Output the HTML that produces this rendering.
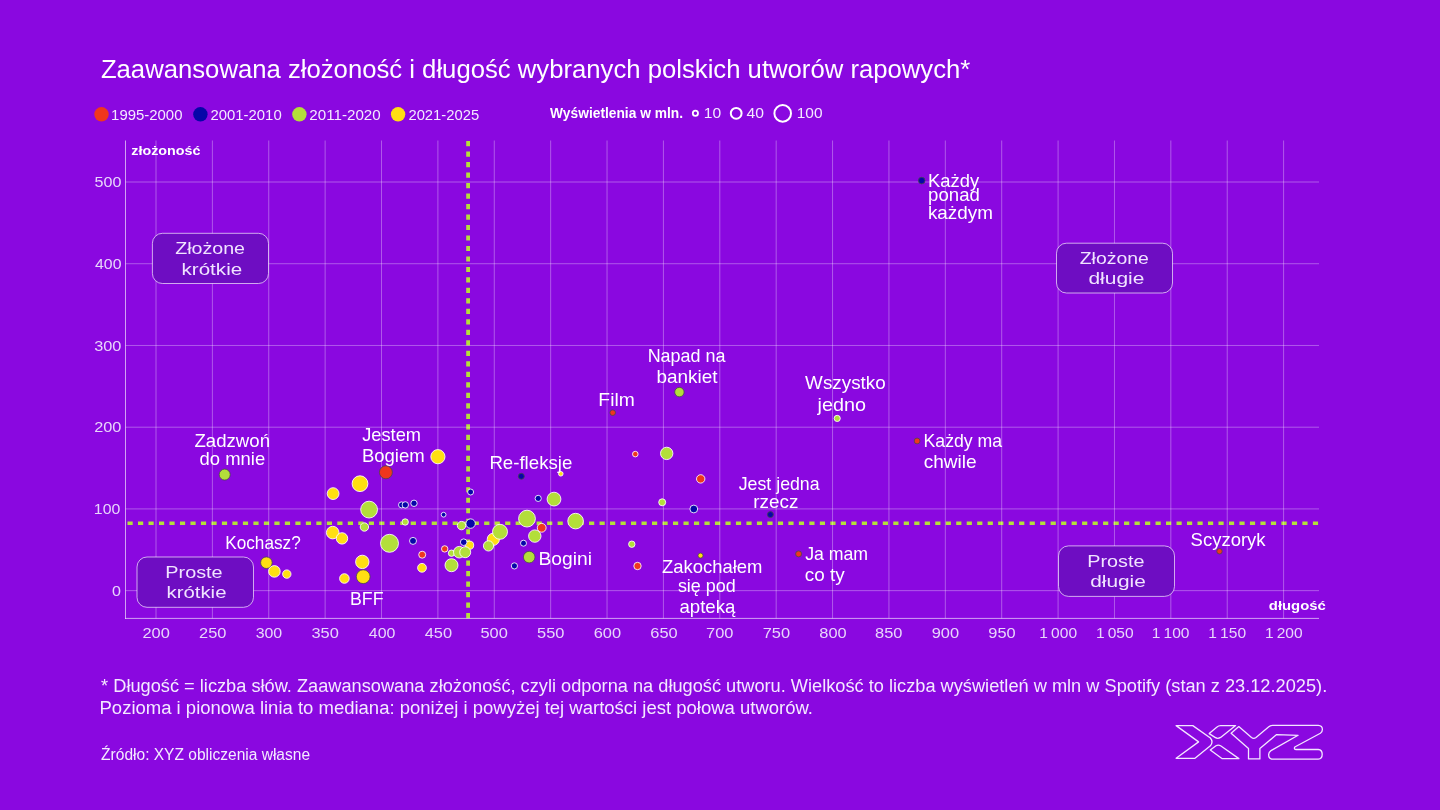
<!DOCTYPE html>
<html><head><meta charset="utf-8"><title>Zaawansowana złożoność i długość wybranych polskich utworów rapowych</title>
<style>
html,body{margin:0;padding:0;background:#8A08E0;}
body{width:1440px;height:810px;overflow:hidden;}
svg{display:block;will-change:transform;}
text{font-family:"Liberation Sans", sans-serif;}
</style></head><body>
<svg width="1440" height="810" viewBox="0 0 1440 810">
<rect x="0" y="0" width="1440" height="810" fill="#8A08E0"/>
<circle cx="101.5" cy="114.3" r="7.2" fill="#F0361E"/>
<circle cx="200.4" cy="114.3" r="7.2" fill="#0606A8"/>
<circle cx="299.4" cy="114.3" r="7.2" fill="#B3DE3A"/>
<circle cx="398.1" cy="114.3" r="7.2" fill="#FFDF12"/>
<circle cx="695.4" cy="113.3" r="2.6" fill="none" stroke="#fff" stroke-width="1.8"/>
<circle cx="736.2" cy="113.3" r="5.4" fill="none" stroke="#fff" stroke-width="2"/>
<circle cx="782.7" cy="113.4" r="8.3" fill="none" stroke="#fff" stroke-width="2"/>
<line x1="127.5" y1="523.3" x2="1319" y2="523.3" stroke="#B4E03A" stroke-width="3.4" stroke-dasharray="5.2 5.29"/>
<line x1="468.1" y1="141" x2="468.1" y2="618.5" stroke="#B4E03A" stroke-width="3.8" stroke-dasharray="5.2 5.29"/>
<line x1="156.00" y1="140.5" x2="156.00" y2="618.4" stroke="rgba(255,255,255,0.33)" stroke-width="1"/>
<line x1="212.38" y1="140.5" x2="212.38" y2="618.4" stroke="rgba(255,255,255,0.33)" stroke-width="1"/>
<line x1="268.76" y1="140.5" x2="268.76" y2="618.4" stroke="rgba(255,255,255,0.33)" stroke-width="1"/>
<line x1="325.14" y1="140.5" x2="325.14" y2="618.4" stroke="rgba(255,255,255,0.33)" stroke-width="1"/>
<line x1="381.52" y1="140.5" x2="381.52" y2="618.4" stroke="rgba(255,255,255,0.33)" stroke-width="1"/>
<line x1="437.90" y1="140.5" x2="437.90" y2="618.4" stroke="rgba(255,255,255,0.33)" stroke-width="1"/>
<line x1="494.28" y1="140.5" x2="494.28" y2="618.4" stroke="rgba(255,255,255,0.33)" stroke-width="1"/>
<line x1="550.66" y1="140.5" x2="550.66" y2="618.4" stroke="rgba(255,255,255,0.33)" stroke-width="1"/>
<line x1="607.04" y1="140.5" x2="607.04" y2="618.4" stroke="rgba(255,255,255,0.33)" stroke-width="1"/>
<line x1="663.42" y1="140.5" x2="663.42" y2="618.4" stroke="rgba(255,255,255,0.33)" stroke-width="1"/>
<line x1="719.80" y1="140.5" x2="719.80" y2="618.4" stroke="rgba(255,255,255,0.33)" stroke-width="1"/>
<line x1="776.18" y1="140.5" x2="776.18" y2="618.4" stroke="rgba(255,255,255,0.33)" stroke-width="1"/>
<line x1="832.56" y1="140.5" x2="832.56" y2="618.4" stroke="rgba(255,255,255,0.33)" stroke-width="1"/>
<line x1="888.94" y1="140.5" x2="888.94" y2="618.4" stroke="rgba(255,255,255,0.33)" stroke-width="1"/>
<line x1="945.32" y1="140.5" x2="945.32" y2="618.4" stroke="rgba(255,255,255,0.33)" stroke-width="1"/>
<line x1="1001.70" y1="140.5" x2="1001.70" y2="618.4" stroke="rgba(255,255,255,0.33)" stroke-width="1"/>
<line x1="1058.08" y1="140.5" x2="1058.08" y2="618.4" stroke="rgba(255,255,255,0.33)" stroke-width="1"/>
<line x1="1114.46" y1="140.5" x2="1114.46" y2="618.4" stroke="rgba(255,255,255,0.33)" stroke-width="1"/>
<line x1="1170.84" y1="140.5" x2="1170.84" y2="618.4" stroke="rgba(255,255,255,0.33)" stroke-width="1"/>
<line x1="1227.22" y1="140.5" x2="1227.22" y2="618.4" stroke="rgba(255,255,255,0.33)" stroke-width="1"/>
<line x1="1283.60" y1="140.5" x2="1283.60" y2="618.4" stroke="rgba(255,255,255,0.33)" stroke-width="1"/>
<line x1="125.5" y1="590.65" x2="1319" y2="590.65" stroke="rgba(255,255,255,0.33)" stroke-width="1"/>
<line x1="125.5" y1="508.92" x2="1319" y2="508.92" stroke="rgba(255,255,255,0.33)" stroke-width="1"/>
<line x1="125.5" y1="427.19" x2="1319" y2="427.19" stroke="rgba(255,255,255,0.33)" stroke-width="1"/>
<line x1="125.5" y1="345.46" x2="1319" y2="345.46" stroke="rgba(255,255,255,0.33)" stroke-width="1"/>
<line x1="125.5" y1="263.73" x2="1319" y2="263.73" stroke="rgba(255,255,255,0.33)" stroke-width="1"/>
<line x1="125.5" y1="182.00" x2="1319" y2="182.00" stroke="rgba(255,255,255,0.33)" stroke-width="1"/>
<line x1="125.5" y1="140.5" x2="125.5" y2="618.9" stroke="rgba(255,255,255,0.62)" stroke-width="1"/>
<line x1="125" y1="618.4" x2="1319" y2="618.4" stroke="rgba(255,255,255,0.62)" stroke-width="1"/>
<rect x="152.4" y="233.3" width="116.1" height="50.2" rx="10" ry="10" fill="#6E0DC2" stroke="rgba(255,255,255,0.65)" stroke-width="1"/>
<rect x="137.0" y="557.0" width="116.5" height="50.3" rx="10" ry="10" fill="#6E0DC2" stroke="rgba(255,255,255,0.65)" stroke-width="1"/>
<rect x="1056.5" y="243.2" width="116.0" height="49.8" rx="10" ry="10" fill="#6E0DC2" stroke="rgba(255,255,255,0.65)" stroke-width="1"/>
<rect x="1058.5" y="545.9" width="116.0" height="50.5" rx="10" ry="10" fill="#6E0DC2" stroke="rgba(255,255,255,0.65)" stroke-width="1"/>
<circle cx="224.7" cy="474.6" r="5.50" fill="#B3DE3A" stroke="#484850" stroke-opacity="0.8" stroke-width="1"/>
<circle cx="266.4" cy="562.7" r="5.80" fill="#FFDF12" stroke="#484850" stroke-opacity="0.8" stroke-width="1"/>
<circle cx="274.4" cy="571.4" r="5.80" fill="#FFDF12" stroke="rgba(255,255,255,0.85)" stroke-width="1"/>
<circle cx="286.8" cy="574.1" r="4.20" fill="#FFDF12" stroke="rgba(255,255,255,0.85)" stroke-width="1"/>
<circle cx="333.1" cy="493.6" r="5.90" fill="#FFDF12" stroke="rgba(255,255,255,0.85)" stroke-width="1"/>
<circle cx="360.0" cy="483.7" r="7.90" fill="#FFDF12" stroke="rgba(255,255,255,0.85)" stroke-width="1"/>
<circle cx="385.9" cy="472.3" r="6.50" fill="#F0361E" stroke="#484850" stroke-opacity="0.8" stroke-width="1"/>
<circle cx="437.9" cy="456.7" r="7.10" fill="#FFDF12" stroke="rgba(255,255,255,0.85)" stroke-width="1"/>
<circle cx="369.1" cy="509.6" r="8.40" fill="#B3DE3A" stroke="rgba(255,255,255,0.85)" stroke-width="1"/>
<circle cx="332.7" cy="532.6" r="6.30" fill="#FFDF12" stroke="rgba(255,255,255,0.85)" stroke-width="1"/>
<circle cx="342.0" cy="538.4" r="5.70" fill="#FFDF12" stroke="rgba(255,255,255,0.85)" stroke-width="1"/>
<circle cx="364.4" cy="527.0" r="4.20" fill="#B3DE3A" stroke="rgba(255,255,255,0.85)" stroke-width="1"/>
<circle cx="389.5" cy="543.3" r="9.00" fill="#B3DE3A" stroke="rgba(255,255,255,0.85)" stroke-width="1"/>
<circle cx="405.2" cy="522.0" r="3.20" fill="#B3DE3A" stroke="rgba(255,255,255,0.85)" stroke-width="1"/>
<circle cx="401.5" cy="504.9" r="3.00" fill="#0606A8" stroke="rgba(255,255,255,0.85)" stroke-width="1"/>
<circle cx="405.3" cy="504.9" r="3.20" fill="#0606A8" stroke="rgba(255,255,255,0.85)" stroke-width="1"/>
<circle cx="414.0" cy="503.3" r="3.20" fill="#0606A8" stroke="rgba(255,255,255,0.85)" stroke-width="1"/>
<circle cx="413.0" cy="540.9" r="3.50" fill="#0606A8" stroke="rgba(255,255,255,0.85)" stroke-width="1"/>
<circle cx="443.6" cy="514.7" r="2.40" fill="#0606A8" stroke="rgba(255,255,255,0.85)" stroke-width="1"/>
<circle cx="422.2" cy="554.7" r="3.50" fill="#F0361E" stroke="rgba(255,255,255,0.85)" stroke-width="1"/>
<circle cx="422.0" cy="567.8" r="4.40" fill="#FFDF12" stroke="rgba(255,255,255,0.85)" stroke-width="1"/>
<circle cx="362.3" cy="561.9" r="6.70" fill="#FFDF12" stroke="rgba(255,255,255,0.85)" stroke-width="1"/>
<circle cx="363.2" cy="576.7" r="6.90" fill="#FFDF12" stroke="#484850" stroke-opacity="0.8" stroke-width="1"/>
<circle cx="344.4" cy="578.5" r="4.80" fill="#FFDF12" stroke="rgba(255,255,255,0.85)" stroke-width="1"/>
<circle cx="444.7" cy="548.9" r="3.20" fill="#F0361E" stroke="rgba(255,255,255,0.85)" stroke-width="1"/>
<circle cx="451.5" cy="553.2" r="3.20" fill="#B3DE3A" stroke="rgba(255,255,255,0.85)" stroke-width="1"/>
<circle cx="459.3" cy="552.2" r="5.80" fill="#B3DE3A" stroke="rgba(255,255,255,0.85)" stroke-width="1"/>
<circle cx="469.6" cy="545.2" r="4.10" fill="#FFDF12" stroke="rgba(255,255,255,0.85)" stroke-width="1"/>
<circle cx="463.7" cy="542.2" r="3.30" fill="#0606A8" stroke="rgba(255,255,255,0.85)" stroke-width="1"/>
<circle cx="465.2" cy="552.2" r="5.50" fill="#B3DE3A" stroke="rgba(255,255,255,0.85)" stroke-width="1"/>
<circle cx="451.5" cy="565.2" r="6.50" fill="#B3DE3A" stroke="rgba(255,255,255,0.85)" stroke-width="1"/>
<circle cx="461.5" cy="525.6" r="4.20" fill="#B3DE3A" stroke="rgba(255,255,255,0.85)" stroke-width="1"/>
<circle cx="470.6" cy="523.6" r="4.70" fill="#0606A8" stroke="rgba(255,255,255,0.85)" stroke-width="1"/>
<circle cx="470.6" cy="492.0" r="3.00" fill="#0606A8" stroke="rgba(255,255,255,0.85)" stroke-width="1"/>
<circle cx="521.3" cy="476.3" r="3.00" fill="#0606A8" stroke="#484850" stroke-opacity="0.8" stroke-width="1"/>
<circle cx="560.8" cy="473.8" r="2.30" fill="#FFDF12" stroke="rgba(255,255,255,0.85)" stroke-width="1"/>
<circle cx="538.2" cy="498.4" r="3.10" fill="#0606A8" stroke="rgba(255,255,255,0.85)" stroke-width="1"/>
<circle cx="554.0" cy="499.1" r="6.90" fill="#B3DE3A" stroke="rgba(255,255,255,0.85)" stroke-width="1"/>
<circle cx="527.0" cy="518.6" r="8.40" fill="#B3DE3A" stroke="rgba(255,255,255,0.85)" stroke-width="1"/>
<circle cx="541.7" cy="527.8" r="4.40" fill="#F0361E" stroke="rgba(255,255,255,0.85)" stroke-width="1"/>
<circle cx="534.8" cy="536.1" r="6.20" fill="#B3DE3A" stroke="rgba(255,255,255,0.85)" stroke-width="1"/>
<circle cx="493.3" cy="539.3" r="6.10" fill="#FFDF12" stroke="rgba(255,255,255,0.85)" stroke-width="1"/>
<circle cx="500.0" cy="531.8" r="7.50" fill="#B3DE3A" stroke="rgba(255,255,255,0.85)" stroke-width="1"/>
<circle cx="488.5" cy="545.9" r="5.10" fill="#B3DE3A" stroke="rgba(255,255,255,0.85)" stroke-width="1"/>
<circle cx="523.5" cy="543.2" r="3.00" fill="#0606A8" stroke="rgba(255,255,255,0.85)" stroke-width="1"/>
<circle cx="529.2" cy="557.1" r="5.80" fill="#B3DE3A" stroke="#484850" stroke-opacity="0.8" stroke-width="1"/>
<circle cx="514.4" cy="565.9" r="3.10" fill="#0606A8" stroke="rgba(255,255,255,0.85)" stroke-width="1"/>
<circle cx="575.6" cy="521.1" r="7.80" fill="#B3DE3A" stroke="rgba(255,255,255,0.85)" stroke-width="1"/>
<circle cx="635.3" cy="454.1" r="2.80" fill="#F0361E" stroke="rgba(255,255,255,0.85)" stroke-width="1"/>
<circle cx="666.7" cy="453.4" r="6.20" fill="#B3DE3A" stroke="rgba(255,255,255,0.85)" stroke-width="1"/>
<circle cx="700.7" cy="478.9" r="4.20" fill="#F0361E" stroke="rgba(255,255,255,0.85)" stroke-width="1"/>
<circle cx="662.2" cy="502.3" r="3.50" fill="#B3DE3A" stroke="rgba(255,255,255,0.85)" stroke-width="1"/>
<circle cx="693.8" cy="509.0" r="3.90" fill="#0606A8" stroke="rgba(255,255,255,0.85)" stroke-width="1"/>
<circle cx="631.8" cy="544.2" r="3.20" fill="#B3DE3A" stroke="rgba(255,255,255,0.85)" stroke-width="1"/>
<circle cx="637.5" cy="566.0" r="3.70" fill="#F0361E" stroke="rgba(255,255,255,0.85)" stroke-width="1"/>
<circle cx="700.5" cy="555.6" r="2.50" fill="#FFDF12" stroke="#484850" stroke-opacity="0.8" stroke-width="1"/>
<circle cx="612.7" cy="412.7" r="2.80" fill="#F0361E" stroke="#484850" stroke-opacity="0.8" stroke-width="1"/>
<circle cx="679.4" cy="392.1" r="4.70" fill="#B3DE3A" stroke="#484850" stroke-opacity="0.8" stroke-width="1"/>
<circle cx="837.2" cy="418.4" r="3.10" fill="#B3DE3A" stroke="rgba(255,255,255,0.85)" stroke-width="1"/>
<circle cx="917.1" cy="441.0" r="2.90" fill="#F0361E" stroke="#484850" stroke-opacity="0.8" stroke-width="1"/>
<circle cx="770.4" cy="514.6" r="3.00" fill="#0606A8" stroke="#484850" stroke-opacity="0.8" stroke-width="1"/>
<circle cx="798.6" cy="553.9" r="3.00" fill="#F0361E" stroke="#484850" stroke-opacity="0.8" stroke-width="1"/>
<circle cx="1219.5" cy="551.3" r="2.70" fill="#F0361E" stroke="#484850" stroke-opacity="0.8" stroke-width="1"/>
<circle cx="921.7" cy="180.6" r="3.30" fill="#0606A8" stroke="#484850" stroke-opacity="0.8" stroke-width="1"/>
<text x="100.90" y="78.4" font-size="25.2" fill="#FFFFFF" textLength="869.42" lengthAdjust="spacingAndGlyphs">Zaawansowana złożoność i długość wybranych polskich utworów rapowych*</text>
<text x="111.10" y="119.5" font-size="14.6" fill="#F4EAFF" textLength="71.36" lengthAdjust="spacingAndGlyphs">1995-2000</text>
<text x="210.54" y="119.5" font-size="14.6" fill="#F4EAFF" textLength="71.14" lengthAdjust="spacingAndGlyphs">2001-2010</text>
<text x="309.32" y="119.5" font-size="14.6" fill="#F4EAFF" textLength="71.36" lengthAdjust="spacingAndGlyphs">2011-2020</text>
<text x="408.40" y="119.5" font-size="14.6" fill="#F4EAFF" textLength="70.84" lengthAdjust="spacingAndGlyphs">2021-2025</text>
<text x="550.12" y="118.4" font-size="14.2" font-weight="bold" fill="#FFFFFF" textLength="132.92" lengthAdjust="spacingAndGlyphs">Wyświetlenia w mln.</text>
<text x="703.82" y="118.2" font-size="15.0" fill="#F4EAFF" textLength="17.36" lengthAdjust="spacingAndGlyphs">10</text>
<text x="746.54" y="118.2" font-size="15.0" fill="#F4EAFF" textLength="17.42" lengthAdjust="spacingAndGlyphs">40</text>
<text x="796.74" y="118.2" font-size="15.0" fill="#F4EAFF" textLength="25.80" lengthAdjust="spacingAndGlyphs">100</text>
<text x="131.26" y="154.9" font-size="12.8" font-weight="bold" fill="#FFFFFF" textLength="69.20" lengthAdjust="spacingAndGlyphs">złożoność</text>
<text x="1268.82" y="609.7" font-size="12.8" font-weight="bold" fill="#FFFFFF" textLength="57.00" lengthAdjust="spacingAndGlyphs">długość</text>
<text x="175.18" y="253.9" font-size="16.6" fill="#F0E4FF" textLength="69.86" lengthAdjust="spacingAndGlyphs">Złożone</text>
<text x="181.52" y="274.6" font-size="16.6" fill="#F0E4FF" textLength="60.66" lengthAdjust="spacingAndGlyphs">krótkie</text>
<text x="165.30" y="577.5" font-size="16.6" fill="#F0E4FF" textLength="57.38" lengthAdjust="spacingAndGlyphs">Proste</text>
<text x="166.52" y="597.8" font-size="16.6" fill="#F0E4FF" textLength="59.94" lengthAdjust="spacingAndGlyphs">krótkie</text>
<text x="1079.76" y="263.9" font-size="16.6" fill="#F0E4FF" textLength="69.06" lengthAdjust="spacingAndGlyphs">Złożone</text>
<text x="1088.46" y="283.6" font-size="16.6" fill="#F0E4FF" textLength="55.94" lengthAdjust="spacingAndGlyphs">długie</text>
<text x="1087.24" y="566.6" font-size="16.6" fill="#F0E4FF" textLength="57.16" lengthAdjust="spacingAndGlyphs">Proste</text>
<text x="1090.18" y="587.1" font-size="16.6" fill="#F0E4FF" textLength="55.64" lengthAdjust="spacingAndGlyphs">długie</text>
<text x="194.40" y="446.5" font-size="19.0" fill="#FFFFFF" textLength="75.64" lengthAdjust="spacingAndGlyphs">Zadzwoń</text>
<text x="199.54" y="465.1" font-size="19.0" fill="#FFFFFF" textLength="65.64" lengthAdjust="spacingAndGlyphs">do mnie</text>
<text x="362.26" y="440.7" font-size="19.0" fill="#FFFFFF" textLength="58.78" lengthAdjust="spacingAndGlyphs">Jestem</text>
<text x="361.88" y="462.3" font-size="19.0" fill="#FFFFFF" textLength="62.88" lengthAdjust="spacingAndGlyphs">Bogiem</text>
<text x="225.24" y="548.9" font-size="19.0" fill="#FFFFFF" textLength="75.50" lengthAdjust="spacingAndGlyphs">Kochasz?</text>
<text x="350.02" y="604.7" font-size="19.0" fill="#FFFFFF" textLength="33.58" lengthAdjust="spacingAndGlyphs">BFF</text>
<text x="489.38" y="469.2" font-size="19.0" fill="#FFFFFF" textLength="82.94" lengthAdjust="spacingAndGlyphs">Re-fleksje</text>
<text x="538.52" y="565.4" font-size="19.0" fill="#FFFFFF" textLength="53.60" lengthAdjust="spacingAndGlyphs">Bogini</text>
<text x="598.38" y="405.8" font-size="19.0" fill="#FFFFFF" textLength="36.38" lengthAdjust="spacingAndGlyphs">Film</text>
<text x="647.66" y="361.7" font-size="19.0" fill="#FFFFFF" textLength="77.86" lengthAdjust="spacingAndGlyphs">Napad na</text>
<text x="656.46" y="383.4" font-size="19.0" fill="#FFFFFF" textLength="61.06" lengthAdjust="spacingAndGlyphs">bankiet</text>
<text x="805.12" y="389.2" font-size="19.0" fill="#FFFFFF" textLength="80.56" lengthAdjust="spacingAndGlyphs">Wszystko</text>
<text x="817.60" y="411.0" font-size="19.0" fill="#FFFFFF" textLength="48.44" lengthAdjust="spacingAndGlyphs">jedno</text>
<text x="923.52" y="446.5" font-size="19.0" fill="#FFFFFF" textLength="78.64" lengthAdjust="spacingAndGlyphs">Każdy ma</text>
<text x="923.68" y="467.7" font-size="19.0" fill="#FFFFFF" textLength="53.00" lengthAdjust="spacingAndGlyphs">chwile</text>
<text x="738.76" y="490.2" font-size="19.0" fill="#FFFFFF" textLength="80.84" lengthAdjust="spacingAndGlyphs">Jest jedna</text>
<text x="753.32" y="507.9" font-size="19.0" fill="#FFFFFF" textLength="45.08" lengthAdjust="spacingAndGlyphs">rzecz</text>
<text x="805.18" y="559.7" font-size="19.0" fill="#FFFFFF" textLength="62.94" lengthAdjust="spacingAndGlyphs">Ja mam</text>
<text x="804.82" y="581.2" font-size="19.0" fill="#FFFFFF" textLength="39.84" lengthAdjust="spacingAndGlyphs">co ty</text>
<text x="661.90" y="572.9" font-size="19.0" fill="#FFFFFF" textLength="100.50" lengthAdjust="spacingAndGlyphs">Zakochałem</text>
<text x="677.90" y="592.3" font-size="19.0" fill="#FFFFFF" textLength="57.86" lengthAdjust="spacingAndGlyphs">się pod</text>
<text x="679.46" y="612.6" font-size="19.0" fill="#FFFFFF" textLength="55.92" lengthAdjust="spacingAndGlyphs">apteką</text>
<text x="1190.60" y="545.5" font-size="19.0" fill="#FFFFFF" textLength="75.00" lengthAdjust="spacingAndGlyphs">Scyzoryk</text>
<text x="928.02" y="186.5" font-size="19.0" fill="#FFFFFF" textLength="51.08" lengthAdjust="spacingAndGlyphs">Każdy</text>
<text x="928.12" y="201.3" font-size="19.0" fill="#FFFFFF" textLength="51.78" lengthAdjust="spacingAndGlyphs">ponad</text>
<text x="927.92" y="219.1" font-size="19.0" fill="#FFFFFF" textLength="64.98" lengthAdjust="spacingAndGlyphs">każdym</text>
<text x="101.12" y="691.6" font-size="18.0" fill="#F4EAFF" textLength="1226.08" lengthAdjust="spacingAndGlyphs">* Długość = liczba słów. Zaawansowana złożoność, czyli odporna na długość utworu. Wielkość to liczba wyświetleń w mln w Spotify (stan z 23.12.2025).</text>
<text x="99.52" y="713.6" font-size="18.0" fill="#F4EAFF" textLength="713.46" lengthAdjust="spacingAndGlyphs">Pozioma i pionowa linia to mediana: poniżej i powyżej tej wartości jest połowa utworów.</text>
<text x="101.12" y="759.6" font-size="15.8" fill="#F4EAFF" textLength="208.92" lengthAdjust="spacingAndGlyphs">Źródło: XYZ obliczenia własne</text>
<text x="94.60" y="187.3" font-size="14.8" fill="#E8D6FB" textLength="26.86" lengthAdjust="spacingAndGlyphs">500</text>
<text x="95.04" y="269.03" font-size="14.8" fill="#E8D6FB" textLength="26.42" lengthAdjust="spacingAndGlyphs">400</text>
<text x="94.24" y="350.76" font-size="14.8" fill="#E8D6FB" textLength="27.22" lengthAdjust="spacingAndGlyphs">300</text>
<text x="94.24" y="432.49" font-size="14.8" fill="#E8D6FB" textLength="27.22" lengthAdjust="spacingAndGlyphs">200</text>
<text x="93.88" y="514.22" font-size="14.8" fill="#E8D6FB" textLength="26.44" lengthAdjust="spacingAndGlyphs">100</text>
<text x="111.90" y="595.95" font-size="14.8" fill="#E8D6FB" textLength="8.92" lengthAdjust="spacingAndGlyphs">0</text>
<text x="142.46" y="637.9" font-size="14.8" fill="#E8D6FB" textLength="27.36" lengthAdjust="spacingAndGlyphs">200</text>
<text x="199.06" y="637.9" font-size="14.8" fill="#E8D6FB" textLength="27.36" lengthAdjust="spacingAndGlyphs">250</text>
<text x="255.67" y="637.9" font-size="14.8" fill="#E8D6FB" textLength="26.56" lengthAdjust="spacingAndGlyphs">300</text>
<text x="311.47" y="637.9" font-size="14.8" fill="#E8D6FB" textLength="27.36" lengthAdjust="spacingAndGlyphs">350</text>
<text x="368.88" y="637.9" font-size="14.8" fill="#E8D6FB" textLength="26.56" lengthAdjust="spacingAndGlyphs">400</text>
<text x="424.68" y="637.9" font-size="14.8" fill="#E8D6FB" textLength="27.36" lengthAdjust="spacingAndGlyphs">450</text>
<text x="480.48" y="637.9" font-size="14.8" fill="#E8D6FB" textLength="27.36" lengthAdjust="spacingAndGlyphs">500</text>
<text x="537.09" y="637.9" font-size="14.8" fill="#E8D6FB" textLength="27.36" lengthAdjust="spacingAndGlyphs">550</text>
<text x="593.69" y="637.9" font-size="14.8" fill="#E8D6FB" textLength="27.36" lengthAdjust="spacingAndGlyphs">600</text>
<text x="650.30" y="637.9" font-size="14.8" fill="#E8D6FB" textLength="27.36" lengthAdjust="spacingAndGlyphs">650</text>
<text x="706.10" y="637.9" font-size="14.8" fill="#E8D6FB" textLength="27.36" lengthAdjust="spacingAndGlyphs">700</text>
<text x="762.70" y="637.9" font-size="14.8" fill="#E8D6FB" textLength="27.36" lengthAdjust="spacingAndGlyphs">750</text>
<text x="819.31" y="637.9" font-size="14.8" fill="#E8D6FB" textLength="27.36" lengthAdjust="spacingAndGlyphs">800</text>
<text x="875.11" y="637.9" font-size="14.8" fill="#E8D6FB" textLength="27.36" lengthAdjust="spacingAndGlyphs">850</text>
<text x="931.72" y="637.9" font-size="14.8" fill="#E8D6FB" textLength="27.36" lengthAdjust="spacingAndGlyphs">900</text>
<text x="988.32" y="637.9" font-size="14.8" fill="#E8D6FB" textLength="27.36" lengthAdjust="spacingAndGlyphs">950</text>
<text x="1039.34" y="637.9" font-size="14.8" fill="#E8D6FB" textLength="37.72" lengthAdjust="spacingAndGlyphs">1 000</text>
<text x="1095.95" y="637.9" font-size="14.8" fill="#E8D6FB" textLength="37.72" lengthAdjust="spacingAndGlyphs">1 050</text>
<text x="1151.75" y="637.9" font-size="14.8" fill="#E8D6FB" textLength="37.72" lengthAdjust="spacingAndGlyphs">1 100</text>
<text x="1208.36" y="637.9" font-size="14.8" fill="#E8D6FB" textLength="37.72" lengthAdjust="spacingAndGlyphs">1 150</text>
<text x="1264.96" y="637.9" font-size="14.8" fill="#E8D6FB" textLength="37.72" lengthAdjust="spacingAndGlyphs">1 200</text>
<g fill="none" stroke="#F3E6FF" stroke-width="1.3" stroke-linejoin="round">
<path d="M1176.1 725.6 L1192.8 725.6 L1210.4 738 Q1213.6 741.9 1210.4 745.8 L1195 758.3 L1176.1 758.3 L1198.6 741.9 Z"/>
<path d="M1220.5 725.6 L1235.6 725.6 L1220.6 737.4 Q1217.8 739.2 1215 737.4 L1209.2 733.6 L1217 727 Q1218.5 725.6 1220.5 725.6 Z"/>
<path d="M1210.3 750 L1216 745.8 Q1218.3 744.4 1220.6 745.8 L1238.9 758.6 L1221.9 758.6 Z"/>
<path d="M1231.1 733.2 L1238.8 726.6 L1251.5 737.6 Q1253.7 739.3 1256 737.6 L1268.8 726.8 Q1270.4 725.4 1272.5 725.4 L1318.3 725.4 Q1322.4 725.6 1322.4 729.4 Q1322.4 731.8 1320.4 733.2 L1294.8 747 Q1293.6 749.5 1296.2 749.5 L1318.3 749.5 Q1322.2 749.8 1322.2 754.3 Q1322.2 759 1318.3 759.2 L1272.4 759.2 Q1268.6 759 1268.6 754.6 Q1268.8 752 1271 750.6 L1298.1 735.3 L1276.6 734.6 L1259.9 748.5 L1259.9 758.9 L1248.5 758.9 L1248.5 748.5 Z"/>
</g>
</svg></body></html>
